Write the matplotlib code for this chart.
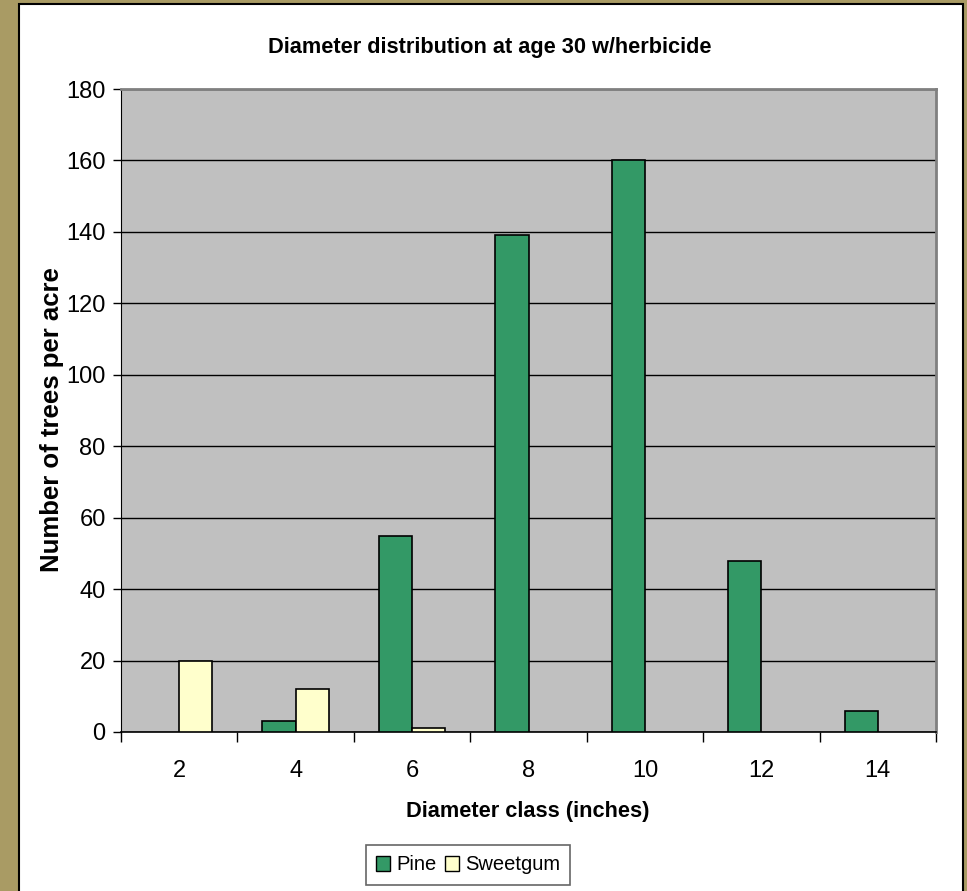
import matplotlib
matplotlib.use("Agg")
import matplotlib.pyplot as plt
from matplotlib.patches import Rectangle, Patch
import numpy as np

classes = ["2", "4", "6", "8", "10", "12", "14"]
pine = [0, 3, 55, 139, 160, 48, 6]
sweetgum = [20, 12, 1, 0, 0, 0, 0]

plt.rcParams["font.family"] = ["Liberation Sans", "DejaVu Sans"]

W, H = 967, 891
fig = plt.figure(figsize=(W / 100, H / 100), dpi=100, facecolor="#a99b64")

# white chart panel behind everything
panel = Rectangle((19 / W, -0.05), (963 - 19) / W, 1.05 - 4 / H,
                  transform=fig.transFigure, facecolor="white",
                  edgecolor="black", linewidth=1.5, zorder=-10)
fig.add_artist(panel)

ax = fig.add_axes([121 / W, 1 - 732 / H, (936 - 121) / W, (732 - 89) / H])
ax.set_facecolor("#c0c0c0")

x = np.arange(len(classes))
bw = 1 / 3.5
for offset, vals, color, name in ((-bw / 2, pine, "#339966", "Pine"),
                                  (bw / 2, sweetgum, "#ffffcc", "Sweetgum")):
    bars = ax.bar(x + offset, vals, bw, color=color, edgecolor="black",
                  linewidth=1.2, zorder=3, label=name)
    # empty classes get no outline along the axis
    for b, v in zip(bars, vals):
        if v == 0:
            b.set_visible(False)

ax.set_xlim(-0.5, len(classes) - 0.5)
ax.set_ylim(0, 180)
ax.set_yticks(np.arange(0, 181, 20))
ax.yaxis.grid(True, color="black", linewidth=1, zorder=1)
ax.set_axisbelow(True)

# tick marks sit between classes, labels in the middle
ax.set_xticks(np.arange(-0.5, len(classes)))
ax.set_xticklabels([])
ax.set_xticks(x, minor=True)
ax.set_xticklabels(classes, minor=True)
ax.tick_params(axis="x", which="minor", length=0, labelsize=17, pad=20)
ax.tick_params(axis="x", which="major", length=7, width=1, direction="out")
ax.tick_params(axis="y", length=6, width=1, labelsize=17, pad=5)

for s in ("top", "right"):
    ax.spines[s].set_color("#808080")
    ax.spines[s].set_linewidth(2)
ax.spines["left"].set_color("black")
ax.spines["bottom"].set_color("black")
ax.spines["bottom"].set_linewidth(1.2)

fig.text(490 / W, 1 - 48 / H, "Diameter distribution at age 30 w/herbicide",
         ha="center", va="center", fontsize=15.7, fontweight="bold")
fig.text(528 / W, 1 - 812 / H, "Diameter class (inches)",
         ha="center", va="center", fontsize=15.7, fontweight="bold")
fig.text(52 / W, 1 - 420 / H, "Number of trees per acre", rotation=90,
         ha="center", va="center", fontsize=18.5, fontweight="bold")

handles = [Patch(facecolor="#339966", edgecolor="black"),
           Patch(facecolor="#ffffcc", edgecolor="black")]
leg = fig.legend(handles, ["Pine", "Sweetgum"], loc="center",
                 bbox_to_anchor=(468 / W, 1 - 865 / H), ncol=2,
                 fontsize=14.5, frameon=True, fancybox=False,
                 handlelength=0.7, handleheight=0.7, handletextpad=0.3,
                 columnspacing=0.4, borderpad=0.5)
leg.get_frame().set_edgecolor("#404040")
leg.get_frame().set_linewidth(1.2)

fig.savefig("out.png", dpi=100, facecolor=fig.get_facecolor())
